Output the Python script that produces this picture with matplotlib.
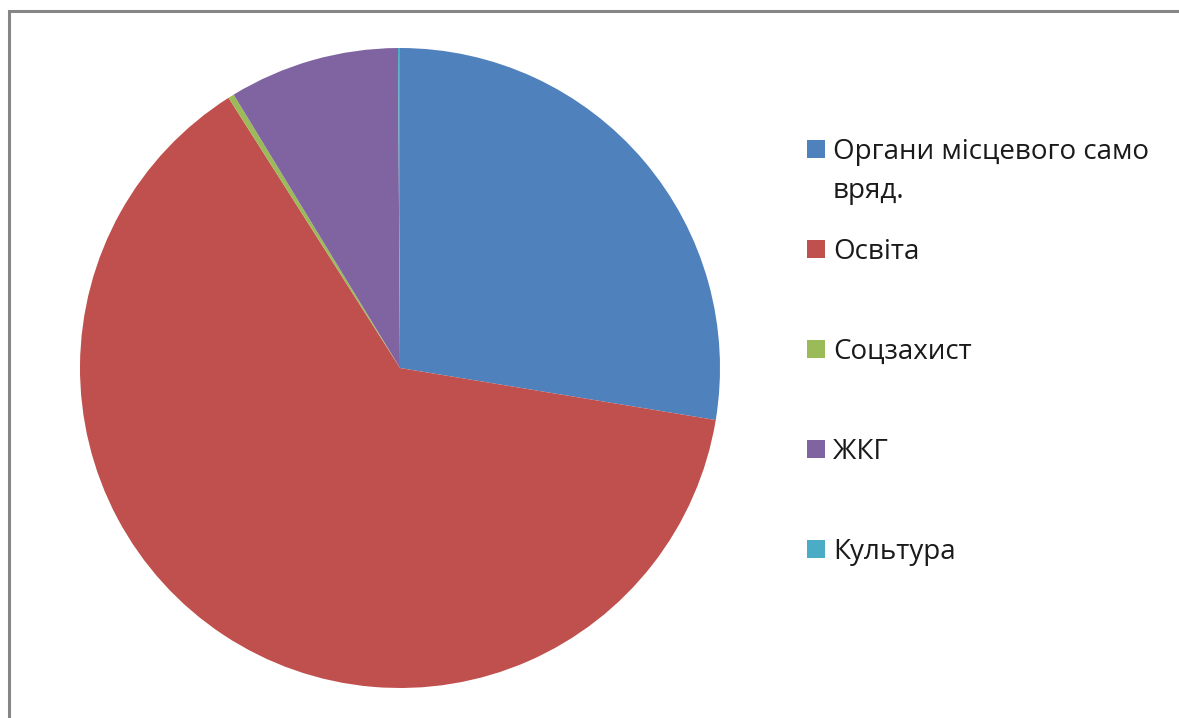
import matplotlib
matplotlib.use('Agg')
import matplotlib.pyplot as plt
from matplotlib.patches import Rectangle

# Shares of spending, %
labels = ['Органи місцевого само\nвряд.', 'Освіта', 'Соцзахист', 'ЖКГ', 'Культура']
shares = [27.6, 63.4, 0.3, 8.6, 0.1]
colors = ['#4F81BD', '#C0504D', '#9BBB59', '#8064A2', '#4BACC6']

W, H = 1179, 718
fig = plt.figure(figsize=(W / 100, H / 100), dpi=100)
fig.patch.set_facecolor('white')

plt.rcParams['font.family'] = ['Open Sans', 'DejaVu Sans']

# pie: centre (400, 368) px, radius 320 px
cx, cy, r = 400, 368, 320
ax = fig.add_axes([(cx - r) / W, (H - cy - r) / H, 2 * r / W, 2 * r / H])
ax.pie(shares, colors=colors, startangle=90, counterclock=False, radius=1,
       wedgeprops=dict(linewidth=0))
ax.set_xlim(-1, 1)
ax.set_ylim(-1, 1)
ax.set_aspect('equal')
ax.axis('off')

# frame of the chart area (runs off the right and bottom edges)
fig.patches.append(Rectangle((8.5 / W, -0.1), 1.2, (H - 11.5) / H + 0.1,
                             transform=fig.transFigure, fill=False,
                             edgecolor='#868686', linewidth=2.2))

# legend drawn by hand to keep the square on the first line
sq = 18
y0 = 149
for i, (lab, col) in enumerate(zip(labels, colors)):
    yc = y0 + i * 100
    fig.patches.append(Rectangle((807 / W, (H - yc - sq / 2) / H), sq / W, sq / H,
                                 transform=fig.transFigure, facecolor=col,
                                 edgecolor='none'))
    for j, line in enumerate(lab.split('\n')):
        fig.text(833 / W, (H - (yc + 10 + j * 39)) / H, line, fontsize=20,
                 color='#1a1a1a', va='baseline', ha='left')

fig.savefig('out.png', dpi=100)
